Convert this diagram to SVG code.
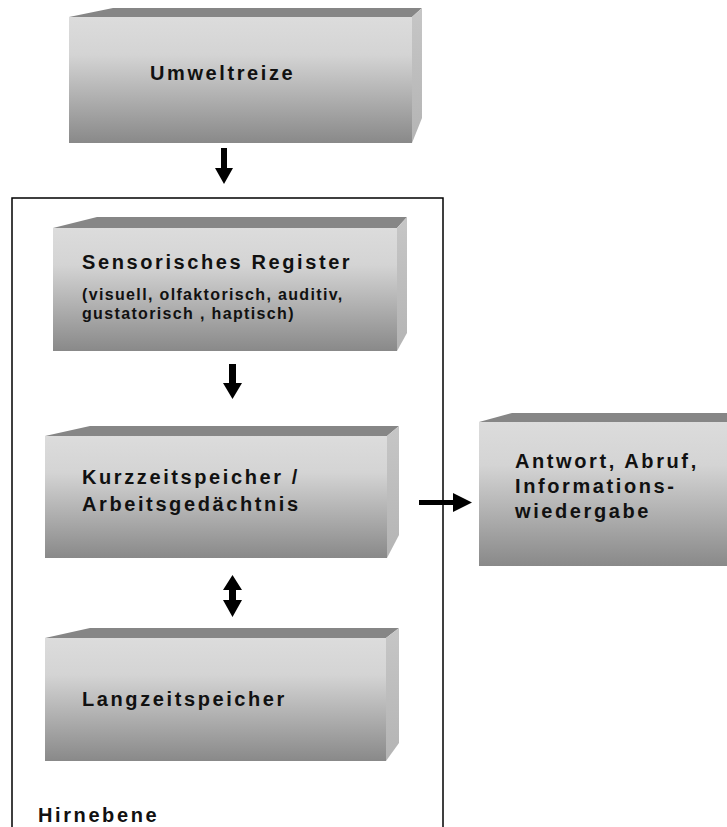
<svg xmlns="http://www.w3.org/2000/svg" width="727" height="827" viewBox="0 0 727 827">
  <defs>
    <linearGradient id="frontFace" x1="0" y1="0" x2="0" y2="1">
      <stop offset="0" stop-color="#dcdcdc"/>
      <stop offset="0.3" stop-color="#d4d4d4"/>
      <stop offset="1" stop-color="#898989"/>
    </linearGradient>
    <linearGradient id="sideFace" x1="0" y1="0" x2="0" y2="1">
      <stop offset="0" stop-color="#c6c6c6"/>
      <stop offset="1" stop-color="#b4b4b4"/>
    </linearGradient>
  </defs>
  <style>
    .front { fill: url(#frontFace); }
    .top { fill: #868686; }
    .side { fill: url(#sideFace); }
    .label { font-family: "Liberation Sans", Arial, sans-serif; font-weight: bold; font-size: 20px; letter-spacing: 2.6px; fill: #111; }
    .sub { font-family: "Liberation Sans", Arial, sans-serif; font-weight: bold; font-size: 16px; letter-spacing: 1.35px; fill: #111; }
    .frame { fill: none; stroke: #000; stroke-width: 1.5; }
    .arrow { fill: #000; }
  </style>
  <rect width="727" height="827" fill="#ffffff"/>

  <!-- brain level frame (open towards the bottom edge) -->
  <g id="hirnebene">
    <rect class="frame" x="12" y="198" width="431" height="700"/>
    <text class="label" x="38" y="822">Hirnebene</text>
  </g>

  <g id="umweltreize">
    <polygon class="top" points="69,17 113,8 422,8 412,17"/>
    <polygon class="side" points="412,17 422,8 422,118 412,143"/>
    <rect class="front" x="69" y="17" width="343" height="126"/>
    <text class="label" x="150" y="80">Umweltreize</text>
  </g>

  <g id="sensorisches-register">
    <polygon class="top" points="53,228 97,217 407,217 397,228"/>
    <polygon class="side" points="397,228 407,217 407,333 397,351"/>
    <rect class="front" x="53" y="228" width="344" height="123"/>
    <text class="label" x="82" y="269">Sensorisches Register</text>
    <text class="sub" x="82" y="300">(visuell, olfaktorisch, auditiv,</text>
    <text class="sub" x="82" y="319">gustatorisch , haptisch)</text>
  </g>

  <g id="kurzzeitspeicher">
    <polygon class="top" points="45,436 90,426 399,426 387,436"/>
    <polygon class="side" points="387,436 399,426 399,535 387,558"/>
    <rect class="front" x="45" y="436" width="342" height="122"/>
    <text class="label" x="82" y="484">Kurzzeitspeicher /</text>
    <text class="label" x="82" y="511">Arbeitsgedächtnis</text>
  </g>

  <g id="langzeitspeicher">
    <polygon class="top" points="45,638 90,628 399,628 386,638"/>
    <polygon class="side" points="386,638 399,628 399,743 386,761"/>
    <rect class="front" x="45" y="638" width="341" height="123"/>
    <text class="label" x="82" y="706">Langzeitspeicher</text>
  </g>

  <g id="antwort">
    <polygon class="top" points="479,422 512,413 740,413 730,422"/>
    <rect class="front" x="479" y="422" width="260" height="144"/>
    <text class="label" x="515" y="468">Antwort, Abruf,</text>
    <text class="label" x="515" y="493">Informations-</text>
    <text class="label" x="515" y="518">wiedergabe</text>
  </g>

  <g id="connectors">
    <!-- Umweltreize to sensory register -->
    <polygon class="arrow" points="221,148 227,148 227,168 233,168 224,184 215,168 221,168"/>
    <!-- sensory register to working memory -->
    <polygon class="arrow" points="229,364 236,364 236,383 242,383 232.5,399 223,383 229,383"/>
    <!-- working memory to long-term memory, both ways -->
    <polygon class="arrow" points="232.5,575 242,590 236,590 236,600 242,600 232.5,617 223,600 229,600 229,590 223,590"/>
    <!-- working memory to response -->
    <polygon class="arrow" points="419,500 453,500 453,493 472,502.5 453,512 453,505 419,505"/>
  </g>
</svg>
